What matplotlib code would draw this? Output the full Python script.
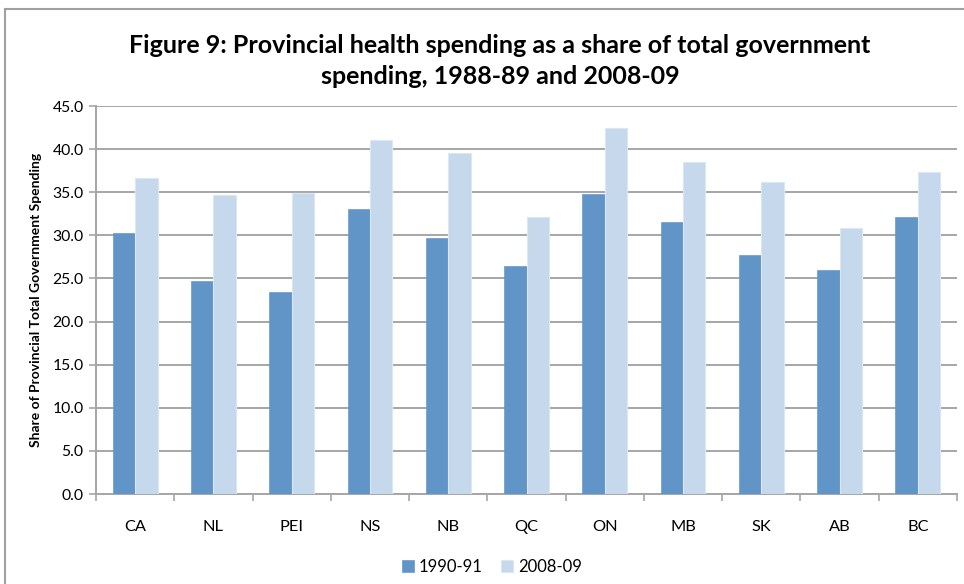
import numpy as np
import matplotlib.pyplot as plt
from matplotlib.patches import Rectangle

plt.rcParams['font.family'] = ['Lato', 'DejaVu Sans']

provinces = ["CA", "NL", "PEI", "NS", "NB", "QC", "ON", "MB", "SK", "AB", "BC"]
share_1990 = [30.3, 24.7, 23.4, 33.1, 29.7, 26.5, 34.8, 31.6, 27.7, 26.0, 32.1]
share_2008 = [36.7, 34.7, 34.9, 41.1, 39.5, 32.1, 42.4, 38.5, 36.2, 30.9, 37.3]
series_labels = ["1990-91", "2008-09"]

dark = "#6195c8"
light = "#c5d8ec"
grid_col = "#a6a6a6"

W, H = 964, 584
fig = plt.figure(figsize=(W / 100, H / 100), dpi=100)
ax = fig.add_axes([96 / W, 1 - 494 / H, (957 - 96) / W, (494 - 106) / H])

# outer chart frame (cut off at right and bottom)
fig.patches.append(Rectangle((5 / W, -0.1), 1.2, 1 - 9 / H + 0.1,
                             transform=fig.transFigure, fill=False,
                             edgecolor="#a0a0a0", linewidth=1.5))

x = np.arange(len(provinces))
w = 0.286
ax.bar(x - w / 2, share_1990, w, color=dark, edgecolor="#6a9bcc",
       linewidth=0.5, label=series_labels[0], zorder=3)
ax.bar(x + w / 2, share_2008, w, color=light, edgecolor="#dbe7f3",
       linewidth=0.8, label=series_labels[1], zorder=3)

ax.set_xlim(-0.5, len(provinces) - 0.5)
ax.set_ylim(0, 45)
yt = np.arange(0, 45.1, 5)
ax.set_yticks(yt)
ax.set_yticklabels([f"{v:.1f}" for v in yt], fontsize=11.3)
ax.yaxis.grid(True, color=grid_col, linewidth=1.4, zorder=0)
ax.set_axisbelow(True)

ax.set_xticks(x)
ax.set_xticklabels(provinces, fontsize=11.8)
ax.tick_params(axis="x", length=0, pad=19)
ax.set_xticks(np.arange(-0.5, len(provinces)), minor=True)
ax.tick_params(axis="x", which="minor", length=5, color=grid_col, width=1.2)
ax.tick_params(axis="y", length=5, color=grid_col, width=1.2, pad=4)

for side in ["top", "right"]:
    ax.spines[side].set_visible(False)
for side in ["left", "bottom"]:
    ax.spines[side].set_color(grid_col)
    ax.spines[side].set_linewidth(1.4)

ax.set_ylabel("Share of Provincial Total Government Spending",
              fontsize=10, fontweight="bold", va="center")
ax.yaxis.set_label_coords((36 - 96) / (957 - 96), 0.5)

fig.text(500 / W, 1 - 61 / H,
         "Figure 9: Provincial health spending as a share of total government\nspending, 1988-89 and 2008-09",
         ha="center", va="center", fontsize=18, fontweight="bold",
         linespacing=1.4)

fig.legend(loc="center", bbox_to_anchor=(492 / W, 1 - 567 / H), ncol=2,
           frameon=False, fontsize=12, handlelength=0.7, handleheight=0.7,
           handletextpad=0.3, columnspacing=1.1)

plt.savefig("out.png", dpi=100)
plt.close()
